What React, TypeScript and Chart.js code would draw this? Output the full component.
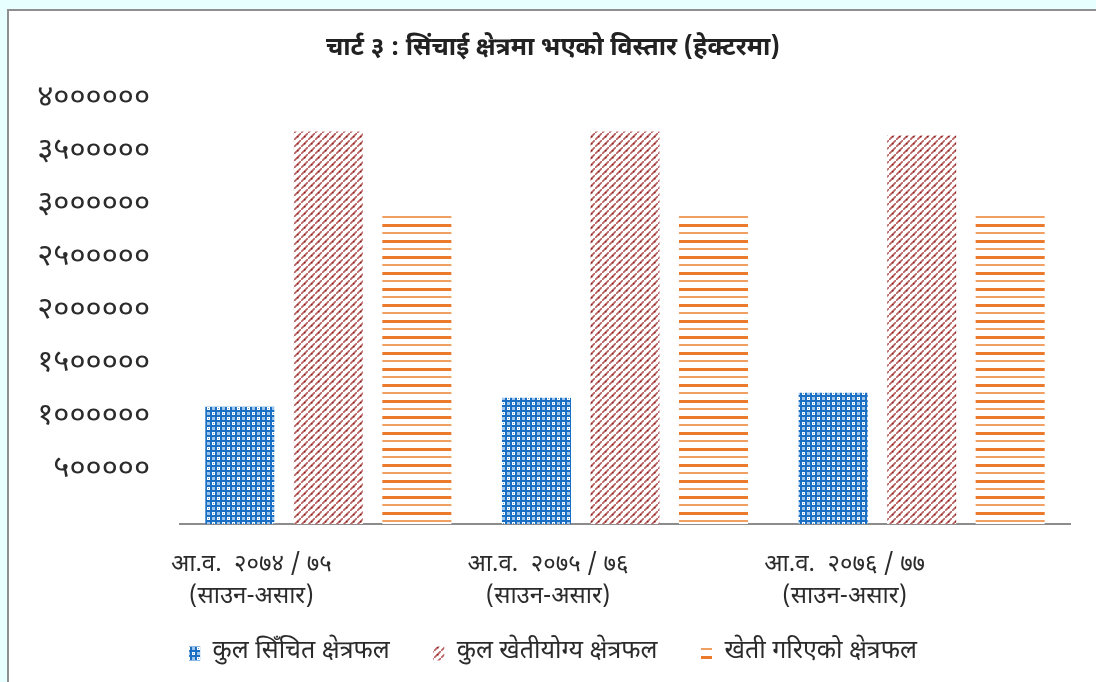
import React, { useEffect, useRef } from 'react';
import { Chart, registerables } from 'chart.js';

Chart.register(...registerables);

const FONT = '"Noto Sans Devanagari", "Lohit Devanagari", "Mangal", "Noto Sans", "DejaVu Sans", sans-serif';

const titleText = 'चार्ट ३ : सिंचाई क्षेत्रमा भएको विस्तार (हेक्टरमा)';
const categories = [
  ['आ.व.  २०७४ / ७५', '(साउन-असार)'],
  ['आ.व.  २०७५ / ७६', '(साउन-असार)'],
  ['आ.व.  २०७६ / ७७', '(साउन-असार)'],
];
const seriesNames = ['कुल सिँचित क्षेत्रफल', 'कुल खेतीयोग्य क्षेत्रफल', 'खेती गरिएको क्षेत्रफल'];
const irrigatedArea = [1106000, 1191000, 1238000];
const cultivableArea = [3703000, 3703000, 3666000];
const cultivatedArea = [2953000, 2906000, 2906000];
const yMax = 4000000;
const yStep = 500000;

const DEV_DIGITS = '०१२३४५६७८९';
const toDev = (n: number) => String(n).replace(/[0-9]/g, (d) => DEV_DIGITS[Number(d)]);

function makeTile(w: number, h: number, draw: (c: CanvasRenderingContext2D) => void): CanvasPattern | string {
  const cv = document.createElement('canvas');
  cv.width = w;
  cv.height = h;
  const c = cv.getContext('2d');
  if (!c) return '#888';
  draw(c);
  const p = c.createPattern(cv, 'repeat');
  return p || '#888';
}

function bluePattern() {
  return makeTile(10, 10, (c) => {
    c.fillStyle = '#9fc6ec';
    c.fillRect(0, 0, 10, 10);
    c.fillStyle = '#1b6fc2';
    c.fillRect(0, 0, 10, 2);
    c.fillRect(0, 5, 10, 2);
    c.fillRect(0, 0, 2, 10);
    c.fillRect(5, 0, 2, 10);
    c.fillStyle = '#ffffff';
    c.fillRect(2, 2, 3, 3);
    c.fillRect(7, 7, 3, 3);
    c.fillStyle = '#5d9bd9';
    c.fillRect(3, 3, 1, 1);
    c.fillRect(8, 8, 1, 1);
  });
}

function redPattern() {
  return makeTile(7, 7, (c) => {
    c.fillStyle = '#ffffff';
    c.fillRect(0, 0, 7, 7);
    c.strokeStyle = '#b85e5e';
    c.lineWidth = 1.7;
    c.beginPath();
    c.moveTo(-1, 8);
    c.lineTo(8, -1);
    c.stroke();
    c.fillStyle = '#8e2424';
    c.fillRect(3, 3, 1.5, 1.5);
  });
}

function orangePattern() {
  return makeTile(8, 16, (c) => {
    c.fillStyle = '#ffffff';
    c.fillRect(0, 0, 8, 16);
    c.fillStyle = '#ec7a2c';
    c.fillRect(0, 0, 8, 3);
    c.fillStyle = '#f1a063';
    c.fillRect(0, 8, 8, 2);
  });
}

export default function App() {
  const ref = useRef<HTMLCanvasElement | null>(null);

  useEffect(() => {
    if (!ref.current) return;
    const chart = new Chart(ref.current, {
      type: 'bar',
      data: {
        labels: categories,
        datasets: [
          { label: seriesNames[0], data: irrigatedArea, backgroundColor: bluePattern() as any, borderWidth: 0 },
          { label: seriesNames[1], data: cultivableArea, backgroundColor: redPattern() as any, borderWidth: 0 },
          { label: seriesNames[2], data: cultivatedArea, backgroundColor: orangePattern() as any, borderWidth: 0 },
        ],
      },
      options: {
        responsive: false,
        animation: false,
        maintainAspectRatio: false,
        layout: { padding: { left: 36, right: 26, top: 28, bottom: 6 } },
        datasets: { bar: { categoryPercentage: 0.895, barPercentage: 0.78 } },
        plugins: {
          title: {
            display: true,
            text: titleText,
            color: '#222222',
            font: { family: FONT, size: 25, weight: 'bold' },
            padding: { top: 7, bottom: 35 },
          },
          legend: {
            position: 'bottom',
            labels: {
              color: '#2b2b2b',
              font: { family: FONT, size: 25 },
              boxWidth: 11,
              boxHeight: 14,
              padding: 24,
              generateLabels: (ch: any) => {
                const items = Chart.defaults.plugins.legend.labels.generateLabels(ch);
                return items.map((it: any, i: number) => ({
                  ...it,
                  lineWidth: 0,
                  text: i < items.length - 1 ? it.text + '\u00a0\u00a0\u00a0' : it.text,
                }));
              },
            },
          },
          tooltip: { enabled: false },
        },
        scales: {
          x: {
            grid: { display: false, drawTicks: false },
            border: { display: true, color: '#8c8c8c', width: 2 },
            afterFit: (scale: any) => {
              scale.height = 93;
            },
            ticks: {
              color: '#2b2b2b',
              font: { family: FONT, size: 24, lineHeight: 1.36 },
              padding: 26,
              labelOffset: -77,
              maxRotation: 0,
              autoSkip: false,
            },
          },
          y: {
            min: 0,
            max: yMax,
            grid: { display: false, drawTicks: false },
            border: { display: false },
            afterFit: (scale: any) => {
              scale.width = 144;
            },
            ticks: {
              stepSize: yStep,
              color: '#2b2b2b',
              font: { family: FONT, size: 31 },
              padding: 30,
              callback: (v: any) => (Number(v) === 0 ? null : toDev(Number(v))),
            },
          },
        },
      },
    });
    return () => chart.destroy();
  }, []);

  return (
    <div style={{ position: 'fixed', left: 0, top: 0, width: 1096, height: 682, background: '#e8ffff', overflow: 'hidden' }}>
      <div
        style={{
          position: 'absolute',
          left: 7,
          top: 9,
          width: 1100,
          height: 690,
          background: '#ffffff',
          borderLeft: '2px solid #8f8f8f',
          borderTop: '2px solid #8f8f8f',
        }}
      />
      <canvas ref={ref} width={1096} height={682} style={{ position: 'absolute', left: 0, top: 0 }} />
    </div>
  );
}
